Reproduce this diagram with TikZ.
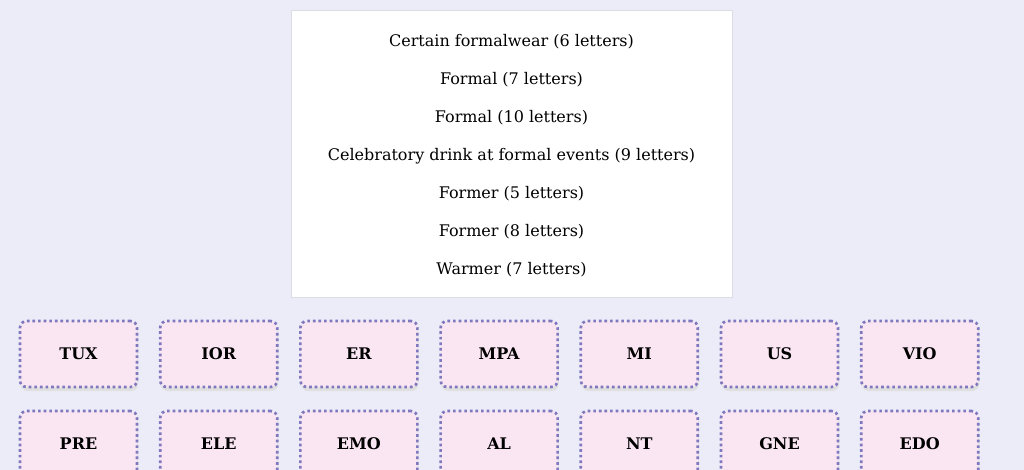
\documentclass[tikz,border=0pt]{standalone}
\usepackage{fontspec}
\setmainfont{DejaVu Serif}
\begin{document}
\begin{tikzpicture}[x=0.75pt,y=-0.75pt,
  tile/.style={fill={rgb,255:red,249;green,230;blue,242}, line width=2pt, dash pattern=on 2pt off 2.2pt, rounded corners=5pt, minimum width=117*0.75pt, minimum height=66*0.75pt, font=\bfseries\fontsize{12}{14}\selectfont, inner sep=0pt},
  clue/.style={font=\fontsize{12}{14}\selectfont, inner sep=0pt}]
\definecolor{bg}{RGB}{236,236,249}
\definecolor{tb}{RGB}{128,120,190}
\fill[bg] (0,0) rectangle (1024,470);
\useasboundingbox (0,0) rectangle (1024,470);
\node[draw={rgb,255:red,220;green,220;blue,230}, fill=white, minimum width=441*0.75pt, minimum height=287*0.75pt, inner sep=0pt] (card) at (511.5,153.5) {};
\foreach \t [count=\i] in {Certain formalwear (6 letters),Formal (7 letters),Formal (10 letters),Celebratory drink at formal events (9 letters),Former (5 letters),Former (8 letters),Warmer (7 letters)}
  \node[clue] (c\i) at (511.5,42+38*\i-38) {\t};
\foreach \t [count=\i] in {TUX,IOR,ER,MPA,MI,US,VIO}
  {\fill[black!12, rounded corners=5pt] (78.5+140.2*\i-140.2+1,356) ++(-58.5,-31) rectangle ++(117,66);
   \node[tile,draw=tb] (a\i) at (78.5+140.2*\i-140.2,354) {\t};}
\foreach \t [count=\i] in {PRE,ELE,EMO,AL,NT,GNE,EDO}
  {\fill[black!12, rounded corners=5pt] (78.5+140.2*\i-140.2+1,446) ++(-58.5,-31) rectangle ++(117,66);
   \node[tile,draw=tb] (b\i) at (78.5+140.2*\i-140.2,444) {\t};}
\end{tikzpicture}
\end{document}
